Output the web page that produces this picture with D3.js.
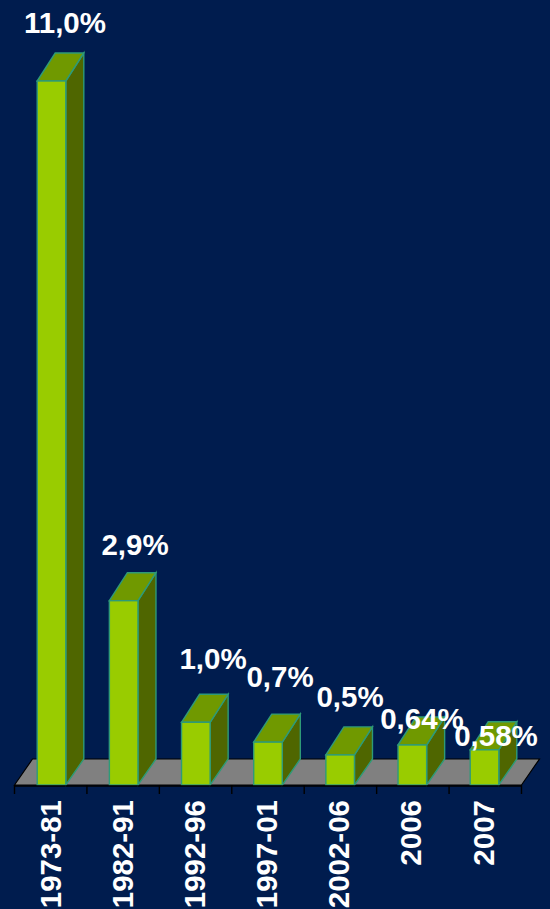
<!DOCTYPE html>
<html><head><meta charset="utf-8">
<script src="https://cdn.jsdelivr.net/npm/d3@7"></script>
<style>html,body{margin:0;padding:0;background:#001c4e;overflow:hidden}svg{display:block}text{font-family:"Liberation Sans",Arial,sans-serif;font-weight:bold;fill:#fff}</style>
</head><body><script>
const categories=["1973-81","1982-91","1992-96","1997-01","2002-06","2006","2007"];
const values=[11.0,2.88,0.98,0.67,0.47,0.625,0.55];
const valueLabels=["11,0%","2,9%","1,0%","0,7%","0,5%","0,64%","0,58%"];
const labelCentres=[65,135,213,280,350,422,496];
const labelBaselines=[33,555,669,687,707,729,746];
const yMax=11;

const W=550,H=909,x0=14.5,x1=521.5,base=785,topY=81,dx=18,dy=28,floorDy=26,barW=28.6;
const svg=d3.select("body").append("svg").attr("width",W).attr("height",H);
svg.append("rect").attr("width",W).attr("height",H).attr("fill","#001c4e");
const x=d3.scaleBand().domain(categories).range([x0,x1]);
const xBar=d3.scalePoint().domain(categories).range([51.5,484.5]);
const y=d3.scaleLinear().domain([0,yMax]).range([base,topY]);
const pts=a=>a.map(p=>p.join(",")).join(" ");

// floor
svg.append("polygon").attr("points",pts([[x0,base],[x0+dx,base-floorDy],[x1+dx,base-floorDy],[x1,base]]))
  .attr("fill","#808080").attr("stroke","#000").attr("stroke-width",1.2);

// bars
const g=svg.selectAll("g.bar").data(categories).join("g").attr("class","bar");
const bx=c=>xBar(c)-barW/2;
const edge="#2e9a78";
g.append("polygon").attr("points",(c,i)=>{const l=bx(c),t=y(values[i]);return pts([[l+barW,t],[l+barW+dx,t-dy],[l+barW+dx,base-floorDy],[l+barW,base]])})
  .attr("fill","#4f6600").attr("stroke",edge).attr("stroke-width",1.4);
g.append("polygon").attr("points",(c,i)=>{const l=bx(c),t=y(values[i]);return pts([[l,t],[l+dx,t-dy],[l+barW+dx,t-dy],[l+barW,t]])})
  .attr("fill","#709900").attr("stroke",edge).attr("stroke-width",1.4);
g.append("rect").attr("x",c=>bx(c)).attr("y",(c,i)=>y(values[i])).attr("width",barW).attr("height",(c,i)=>base-y(values[i]))
  .attr("fill","#99cc00").attr("stroke",edge).attr("stroke-width",1.4);

// axis
const axis=svg.append("g");
axis.append("line").attr("x1",x0).attr("x2",x1).attr("y1",base+1).attr("y2",base+1).attr("stroke","#000").attr("stroke-width",1.4);
axis.selectAll("line.t").data(d3.range(categories.length+1)).join("line").attr("class","t")
  .attr("x1",i=>x0+i*x.step()).attr("x2",i=>x0+i*x.step()).attr("y1",base).attr("y2",base+9).attr("stroke","#000").attr("stroke-width",1.4);
axis.selectAll("text").data(categories).join("text")
  .attr("transform",c=>`translate(${xBar(c)+9},800) rotate(-90)`)
  .attr("text-anchor","end").attr("font-size",29.5).text(c=>c);

// value labels
svg.selectAll("text.v").data(valueLabels).join("text").attr("class","v")
  .attr("x",(d,i)=>labelCentres[i]).attr("y",(d,i)=>labelBaselines[i])
  .attr("text-anchor","middle").attr("font-size",29.5).text(d=>d);
</script></body></html>
